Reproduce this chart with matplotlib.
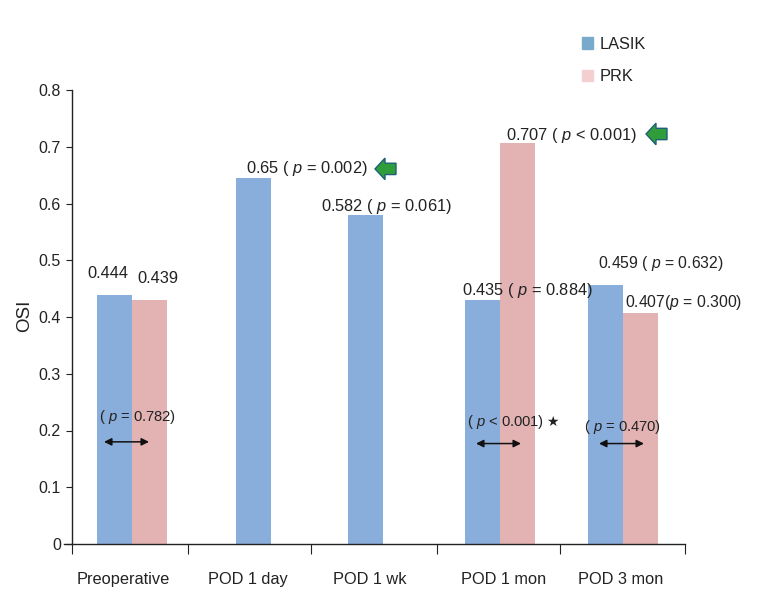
import matplotlib
matplotlib.use('Agg')
import matplotlib.pyplot as plt
from matplotlib.patches import Patch, FancyArrow

plt.rcParams['font.family'] = 'Liberation Sans'
plt.rcParams['mathtext.fontset'] = 'custom'
plt.rcParams['mathtext.rm'] = 'Liberation Sans'
plt.rcParams['mathtext.it'] = 'Liberation Sans:italic'

categories = ['Preoperative', 'POD 1 day', 'POD 1 wk', 'POD 1 mon', 'POD 3 mon']
lasik = [0.438, 0.645, 0.58, 0.43, 0.456]
prk = [0.43, None, None, 0.707, 0.407]
yticks = [0, 0.1, 0.2, 0.3, 0.4, 0.5, 0.6, 0.7, 0.8]
ytick_labels = ['0', '0.1', '0.2', '0.3', '0.4', '0.5', '0.6', '0.7', '0.8']

# x axis runs in image pixels, the groups are not evenly spaced
W, H = 761, 599
X0, X1 = 72, 685
Y0, Y8 = 544, 90
lasik_left = [97, 236, 348, 465, 588]
bar_w = 35
group_edges = [72, 188, 311, 437, 560, 685]
label_x = [123, 247.5, 369.5, 504, 621]

fig = plt.figure(figsize=(W / 100, H / 100), dpi=100)
ax = fig.add_axes([X0 / W, 1 - Y0 / H, (X1 - X0) / W, (Y0 - Y8) / H])
ax.set_xlim(X0, X1)
ax.set_ylim(0, 0.8)
ax.patch.set_alpha(0)

for i in range(len(categories)):
    ax.bar(lasik_left[i], lasik[i], bar_w, align='edge', color='#8aaedb')
    if prk[i] is not None:
        ax.bar(lasik_left[i] + bar_w, prk[i], bar_w, align='edge', color='#e3b3b3')

for s in ['top', 'right']:
    ax.spines[s].set_visible(False)
for s in ['left', 'bottom']:
    ax.spines[s].set_linewidth(1.0)
    ax.spines[s].set_color('#222222')

ax.set_yticks(yticks)
ax.set_yticklabels(ytick_labels, fontsize=11.5, color='#222222')
ax.tick_params(axis='y', length=4, width=0.8, color='#222222', pad=4)
ax.set_xticks(group_edges)
ax.set_xticklabels([])
ax.tick_params(axis='x', length=7, width=0.8, color='#222222')
ax.plot([64, X0], [0, 0], color='#222222', lw=1.0, clip_on=False)

for x, name in zip(label_x, categories):
    ax.text(x, -0.062, name, ha='center', va='center', fontsize=11.8, color='#222222')
fig.text(25 / W, 1 - 316 / H, 'OSI', rotation=90, ha='center', va='center', fontsize=13.5, color='#222222')

# value labels
val_labels = [
    (87, 0.476, '0.444', 11.8),
    (137, 0.467, '0.439', 11.8),
    (246, 0.661, '0.65 ( $p$ = 0.002)', 11.8),
    (321, 0.595, '0.582 ( $p$ = 0.061)', 11.8),
    (462, 0.446, '0.435 ( $p$ = 0.884)', 11.8),
    (506, 0.7205, '0.707 ( $p$ < 0.001)', 11.8),
    (598, 0.495, '0.459 ( $p$ = 0.632)', 11.3),
    (625, 0.426, '0.407($p$ = 0.300)', 11.3),
]
for x, y, s, fs in val_labels:
    ax.text(x, y, s, ha='left', va='center', fontsize=fs, color='#222222', clip_on=False)

p_labels = [
    (99, 0.2238, '( $p$ = 0.782)'),
    (467, 0.215, '( $p$ < 0.001)'),
    (584, 0.206, '( $p$ = 0.470)'),
]
for x, y, s in p_labels:
    ax.text(x, y, s, ha='left', va='center', fontsize=10.6, color='#222222')
ax.text(546, 0.215, '★', ha='left', va='center', fontsize=10, color='#222222', family='DejaVu Sans')

for x, y in [(104, 0.18), (476, 0.177), (599, 0.177)]:
    ax.annotate('', xy=(x, y), xytext=(x + 45, y),
                arrowprops=dict(arrowstyle='<|-|>', color='#111111', lw=1.1, shrinkA=0, shrinkB=0, mutation_scale=11))

# green arrows
for x, y in [(396, 0.661), (667, 0.7225)]:
    ax.add_patch(FancyArrow(x, y, -21, 0, width=0.02, head_width=0.038, head_length=10,
                            length_includes_head=True, fc='#2f9e3a', ec='#1f5f78', lw=1.0, clip_on=False))

handles = [Patch(color='#7aaacb', label='LASIK'), Patch(color='#f3cfcf', label='PRK')]
ax.legend(handles=handles, loc='upper left', bbox_to_anchor=(567 / W, 1 - 22 / H),
          bbox_transform=fig.transFigure, frameon=False, fontsize=11.8, labelspacing=1.08,
          handlelength=0.68, handleheight=0.68, handletextpad=0.42, labelcolor='#222222')

fig.savefig('out.png', dpi=100)
